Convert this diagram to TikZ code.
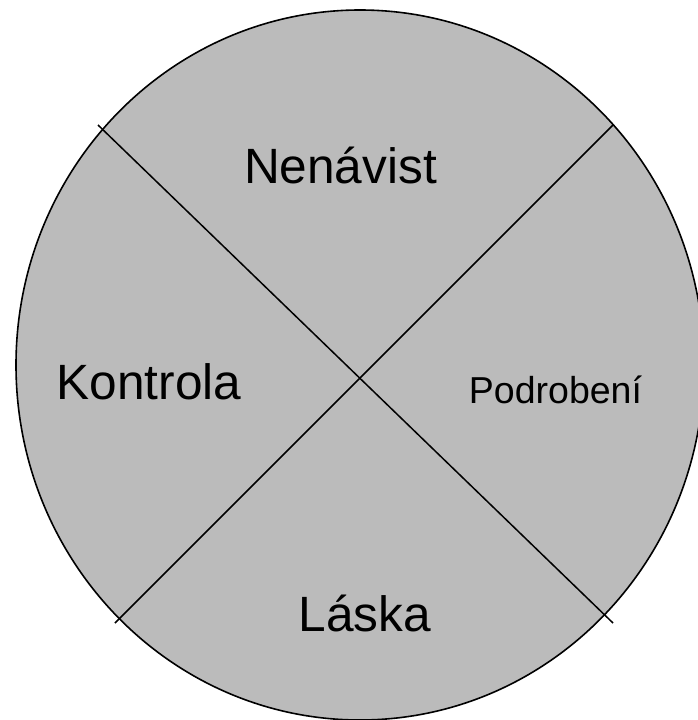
\documentclass[tikz,border=0pt]{standalone}
\usepackage{fontspec}
\setmainfont{Liberation Sans}
\definecolor{fillgray}{RGB}{187,187,187}
\begin{document}
\begin{tikzpicture}[x=1pt,y=-1pt,
  outline/.style={draw=black,line width=1.6pt,fill=fillgray},
  divider/.style={draw=black,line width=1.5pt},
  bigtext/.style={anchor=base,inner sep=0pt,font=\fontsize{49.6}{58}\selectfont},
  smalltext/.style={anchor=base,inner sep=0pt,font=\fontsize{37.5}{44}\selectfont}]
\useasboundingbox (0,0) rectangle (698,720);
\clip (0,0) rectangle (698,720);
\draw[outline] (360,365) ellipse [x radius=344, y radius=355];
\coordinate (tl) at (98,125);
\coordinate (br) at (613,623);
\coordinate (tr) at (613,125);
\coordinate (bl) at (115,623);
\draw[divider] (tl) -- (br);
\draw[divider] (tr) -- (bl);
\node[bigtext] (hate) at (340.5,183) {Nenávist};
\node[bigtext] (control) at (149,399.5) {Kontrola};
\node[smalltext] (submission) at (555.5,403) {Podrobení};
\node[bigtext] (love) at (365,631) {Láska};
\end{tikzpicture}
\end{document}
